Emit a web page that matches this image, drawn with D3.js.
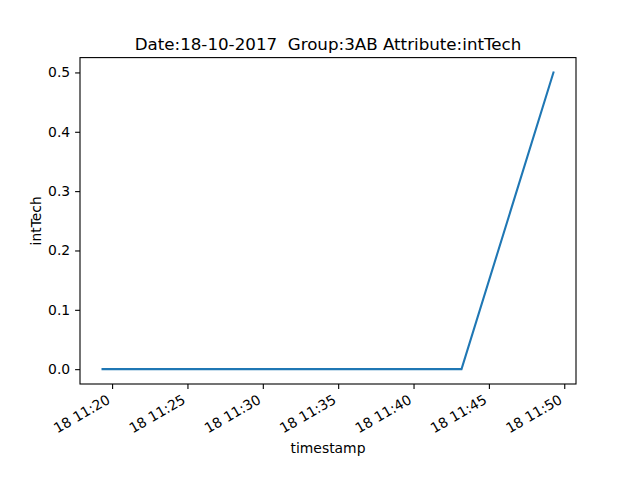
<!DOCTYPE html>
<html>
<head>
<meta charset="utf-8">
<script src="https://cdn.jsdelivr.net/npm/d3@7"></script>
<style>
  body { margin: 0; background: #fff; }
  text { font-family: "DejaVu Sans", sans-serif; fill: #000; }
</style>
</head>
<body>
<script>
// data
var times = ["2017-10-18 11:19:22", "2017-10-18 11:43:11", "2017-10-18 11:49:17"];
var values = [0, 0, 0.5];
var yTicks = [0, 0.1, 0.2, 0.3, 0.4, 0.5];
var title = "Date:18-10-2017  Group:3AB Attribute:intTech";

var parse = d3.timeParse("%Y-%m-%d %H:%M:%S");
var data = times.map(function(t, i) { return {t: parse(t), v: values[i]}; });

var W = 640, H = 480;
var margin = {left: 80, right: 64, top: 57.6, bottom: 96};
var width = W - margin.left - margin.right,
    height = H - margin.top - margin.bottom;

var svg = d3.select("body").append("svg")
  .attr("width", W)
  .attr("height", H);

var main = svg.append("g")
  .attr("transform", "translate(" + margin.left + "," + margin.top + ")");

// matplotlib style 5% margins
var tExt = d3.extent(data, function(d) { return d.t; });
var tPad = (tExt[1] - tExt[0]) * 0.05;
var x = d3.scaleTime()
  .domain([new Date(+tExt[0] - tPad), new Date(+tExt[1] + tPad)])
  .range([0, width]);

var vExt = d3.extent(data, function(d) { return d.v; });
var vPad = (vExt[1] - vExt[0]) * 0.05;
var y = d3.scaleLinear()
  .domain([vExt[0] - vPad, vExt[1] + vPad])
  .range([height, 0]);

// x axis
var xAxis = d3.axisBottom(x)
  .ticks(d3.timeMinute.every(5))
  .tickFormat(d3.timeFormat("%d %H:%M"))
  .tickSize(4.9)
  .tickPadding(4.9);

var gx = main.append("g")
  .attr("transform", "translate(0," + height + ")")
  .call(xAxis);
gx.select(".domain").remove();
gx.selectAll(".tick line").attr("stroke", "#000").attr("stroke-width", 1.1);
gx.selectAll(".tick text")
  .style("font-size", "13.9px")
  .attr("text-anchor", "end")
  .attr("y", 0)
  .attr("dy", 0)
  .attr("transform", "translate(-1.5,18.5) rotate(-30)");

// y axis
var yAxis = d3.axisLeft(y)
  .tickValues(yTicks)
  .tickFormat(d3.format(".1f"))
  .tickSize(4.9)
  .tickPadding(4.9);

var gy = main.append("g").call(yAxis);
gy.select(".domain").remove();
gy.selectAll(".tick line").attr("stroke", "#000").attr("stroke-width", 1.1);
gy.selectAll(".tick text").style("font-size", "13.9px");

// frame
main.append("rect")
  .attr("width", width)
  .attr("height", height)
  .attr("fill", "none")
  .attr("stroke", "#000")
  .attr("stroke-width", 1.1);

// line
var line = d3.line()
  .x(function(d) { return x(d.t); })
  .y(function(d) { return y(d.v); });

main.append("path")
  .datum(data)
  .attr("d", line)
  .attr("fill", "none")
  .attr("stroke", "#1f77b4")
  .attr("stroke-width", 2.08)
  .attr("stroke-linecap", "square");

// labels
svg.append("text")
  .attr("x", margin.left + width / 2)
  .attr("y", 50)
  .attr("text-anchor", "middle")
  .style("font-size", "16.7px")
  .style("white-space", "pre")
  .text(title);

svg.append("text")
  .attr("x", margin.left + width / 2)
  .attr("y", 453)
  .attr("text-anchor", "middle")
  .style("font-size", "13.9px")
  .text("timestamp");

svg.append("text")
  .attr("transform", "translate(41," + (margin.top + height / 2) + ") rotate(-90)")
  .attr("text-anchor", "middle")
  .style("font-size", "13.9px")
  .text("intTech");
</script>
</body>
</html>
